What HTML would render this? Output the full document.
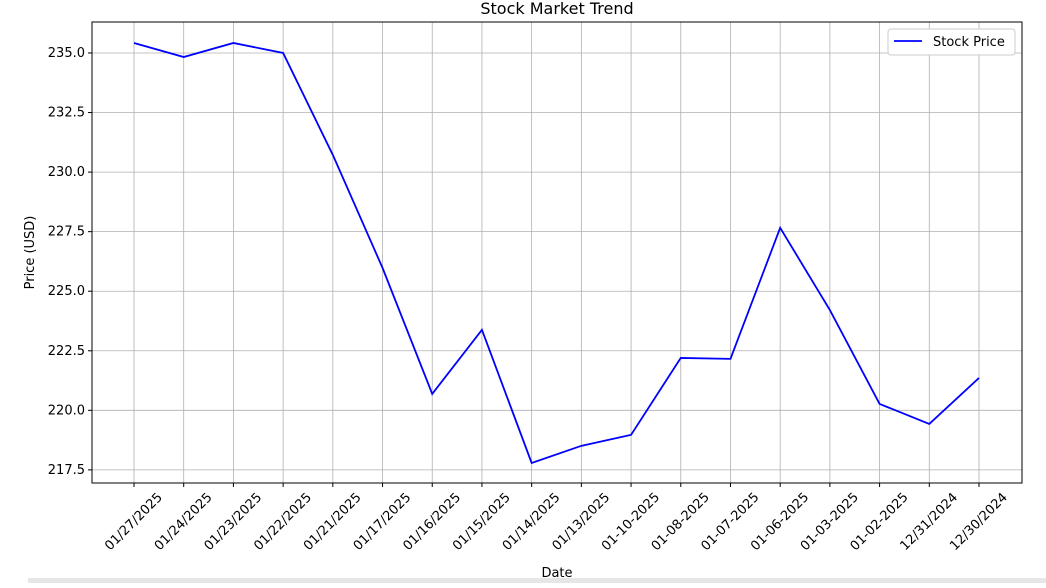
<!DOCTYPE html>
<html><head><meta charset="utf-8"><style>
body{margin:0;background:#fff;font-family:"Liberation Sans","DejaVu Sans",sans-serif;}
svg text{font-family:"DejaVu Sans","Liberation Sans",sans-serif;}
</style></head><body>
<svg id="chart" width="1046" height="583" xmlns="http://www.w3.org/2000/svg">
<rect x="28" y="578" width="1018" height="5" fill="#e6e6e6"/>
</svg>
<script>
const categories=["01/27/2025","01/24/2025","01/23/2025","01/22/2025","01/21/2025","01/17/2025","01/16/2025","01/15/2025","01/14/2025","01/13/2025","01-10-2025","01-08-2025","01-07-2025","01-06-2025","01-03-2025","01-02-2025","12/31/2024","12/30/2024"];
const prices=[235.42,234.83,235.42,235.0,230.72,225.98,220.69,223.38,217.79,218.51,218.97,222.2,222.16,227.66,224.21,220.27,219.43,221.36];
const yTicks=[217.5,220.0,222.5,225.0,227.5,230.0,232.5,235.0];
const svg=document.getElementById('chart');
const NS='http://www.w3.org/2000/svg';
const L=92,R=1022,T=22,B=483,yMin=216.95,yMax=236.3;
const x0=134,x1=979;
function xs(i){return x0+(x1-x0)*i/(categories.length-1);}
function ys(v){return B-(v-yMin)/(yMax-yMin)*(B-T);}
function el(t,a,txt){const e=document.createElementNS(NS,t);for(const k in a)e.setAttribute(k,a[k]);if(txt!=null)e.textContent=txt;svg.appendChild(e);return e;}
yTicks.forEach(v=>{const y=ys(v);
const g=el('line',{x1:L,x2:R,y1:y,y2:y,stroke:'#b0b0b0','stroke-width':0.8});

const tk=el('line',{x1:L-4,x2:L,y1:y,y2:y,stroke:'#000'});

const t=el('text',{x:L-7,y:y+4,'text-anchor':'end','font-size':13,fill:'#000'},v.toFixed(1));
});
categories.forEach((c,i)=>{const x=xs(i);
const g=el('line',{x1:x,x2:x,y1:T,y2:B,stroke:'#b0b0b0','stroke-width':0.8});

const tk=el('line',{x1:x,x2:x,y1:B,y2:B+4,stroke:'#000'});

const cy=B+39;
const t=el('text',{x:x,y:cy,'text-anchor':'middle','dominant-baseline':'central','font-size':13,fill:'#000',transform:`rotate(-45 ${x} ${cy})`},c);
});
const fr=el('rect',{x:L,y:T,width:R-L,height:B-T,fill:'none',stroke:'#000','stroke-width':1});

const ln=el('polyline',{points:prices.map((v,i)=>xs(i)+','+ys(v)).join(' '),fill:'none',stroke:'#0000ff','stroke-width':1.8});

const ti=el('text',{x:(L+R)/2,y:14,'text-anchor':'middle','font-size':16,fill:'#000'},'Stock Market Trend');

const xt=el('text',{x:(L+R)/2,y:577,'text-anchor':'middle','font-size':13,fill:'#000'},'Date');

const yt=el('text',{x:34,y:(T+B)/2,'text-anchor':'middle','font-size':13,fill:'#000',transform:`rotate(-90 34 ${(T+B)/2})`},'Price (USD)');

const lb=el('rect',{x:888,y:29,width:127,height:26,rx:3,fill:'#fff',stroke:'#ccc'});

const ll=el('line',{x1:894,x2:922,y1:41,y2:41,stroke:'#0000ff','stroke-width':1.8});

const lt=el('text',{x:933,y:46,'font-size':13,fill:'#000'},'Stock Price');

</script>
</body></html>
